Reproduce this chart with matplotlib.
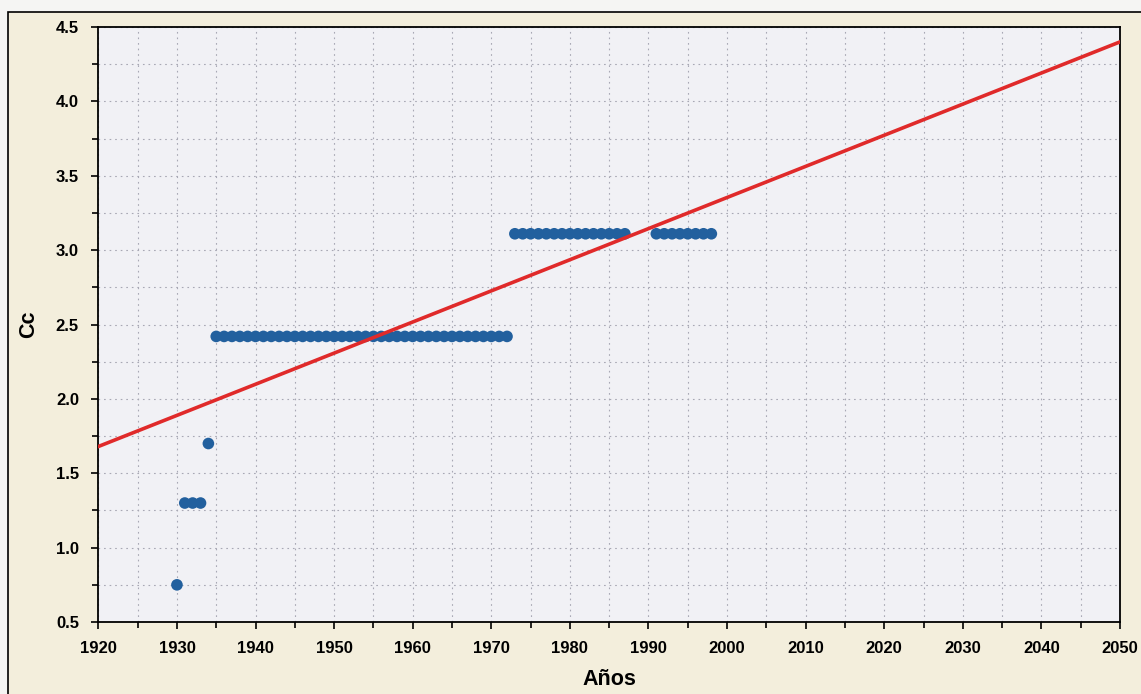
import matplotlib.pyplot as plt
import matplotlib.ticker as ticker
from matplotlib.patches import Rectangle

#
# Data
#

years = [1930, 1931, 1932, 1933, 1934,
         1935, 1936, 1937, 1938, 1939, 1940, 1941, 1942, 1943, 1944,
         1945, 1946, 1947, 1948, 1949, 1950, 1951, 1952, 1953, 1954,
         1955, 1956, 1957, 1958, 1959, 1960, 1961, 1962, 1963, 1964,
         1965, 1966, 1967, 1968, 1969, 1970, 1971, 1972,
         1973, 1974, 1975, 1976, 1977, 1978, 1979, 1980, 1981, 1982,
         1983, 1984, 1985, 1986, 1987,
         1991, 1992, 1993, 1994, 1995, 1996, 1997, 1998]

cc = [0.75, 1.30, 1.30, 1.30, 1.70,
      2.42, 2.42, 2.42, 2.42, 2.42, 2.42, 2.42, 2.42, 2.42, 2.42,
      2.42, 2.42, 2.42, 2.42, 2.42, 2.42, 2.42, 2.42, 2.42, 2.42,
      2.42, 2.42, 2.42, 2.42, 2.42, 2.42, 2.42, 2.42, 2.42, 2.42,
      2.42, 2.42, 2.42, 2.42, 2.42, 2.42, 2.42, 2.42,
      3.11, 3.11, 3.11, 3.11, 3.11, 3.11, 3.11, 3.11, 3.11, 3.11,
      3.11, 3.11, 3.11, 3.11, 3.11,
      3.11, 3.11, 3.11, 3.11, 3.11, 3.11, 3.11, 3.11]

# linear trend (end points)
trend_years = [1920, 2050]
trend_cc = [1.68, 4.40]

x_ticks = [1920, 1930, 1940, 1950, 1960, 1970, 1980, 1990, 2000, 2010, 2020, 2030, 2040, 2050]
y_ticks = [0.5, 1.0, 1.5, 2.0, 2.5, 3.0, 3.5, 4.0, 4.5]

#
# Graph
#

plt.rcParams['font.family'] = ['Liberation Sans', 'DejaVu Sans']

fig = plt.figure(figsize=(11.41, 6.94), dpi=100, facecolor='#f5f5f3')

# beige panel with black frame
fig.patches.append(Rectangle((8 / 1141, -0.05), 1.2, 1 - 12 / 694 + 0.05,
                             transform=fig.transFigure, facecolor='#f3eedc',
                             edgecolor='black', linewidth=1.2, zorder=-10))

ax = fig.add_axes([0.0862, 0.1037, 0.8954, 0.8574])
ax.set_zorder(5)
ax.set_facecolor('#f1f1f5')

ax.plot(trend_years, trend_cc, color='#e02a2a', linewidth=2.6, zorder=3)
ax.scatter(years, cc, s=70, color='#22609e', edgecolors='none', zorder=2)

ax.set_xlim(1920, 2050)
ax.set_ylim(0.5, 4.5)
ax.set_xticks(x_ticks)
ax.set_yticks(y_ticks)
ax.yaxis.set_major_formatter(ticker.FormatStrFormatter('%.1f'))
ax.xaxis.set_minor_locator(ticker.MultipleLocator(5))
ax.yaxis.set_minor_locator(ticker.MultipleLocator(0.25))

ax.tick_params(which='both', direction='out', color='black', width=1.2)
ax.tick_params(which='major', length=5, pad=9, labelsize=12)
ax.tick_params(which='minor', length=4)
for lbl in ax.get_xticklabels() + ax.get_yticklabels():
    lbl.set_fontweight('bold')

ax.grid(which='both', linestyle=(0, (1.5, 3.5)), color='#a8a8b4', linewidth=0.8)
ax.set_axisbelow(True)

for spine in ax.spines.values():
    spine.set_linewidth(1.3)
    spine.set_color('black')

ax.set_xlabel('Años', fontsize=15.5, fontweight='bold', labelpad=9)
ax.set_ylabel('Cc', fontsize=15.5, fontweight='bold', labelpad=12)

fig.savefig('out.png', dpi=100, facecolor=fig.get_facecolor())
